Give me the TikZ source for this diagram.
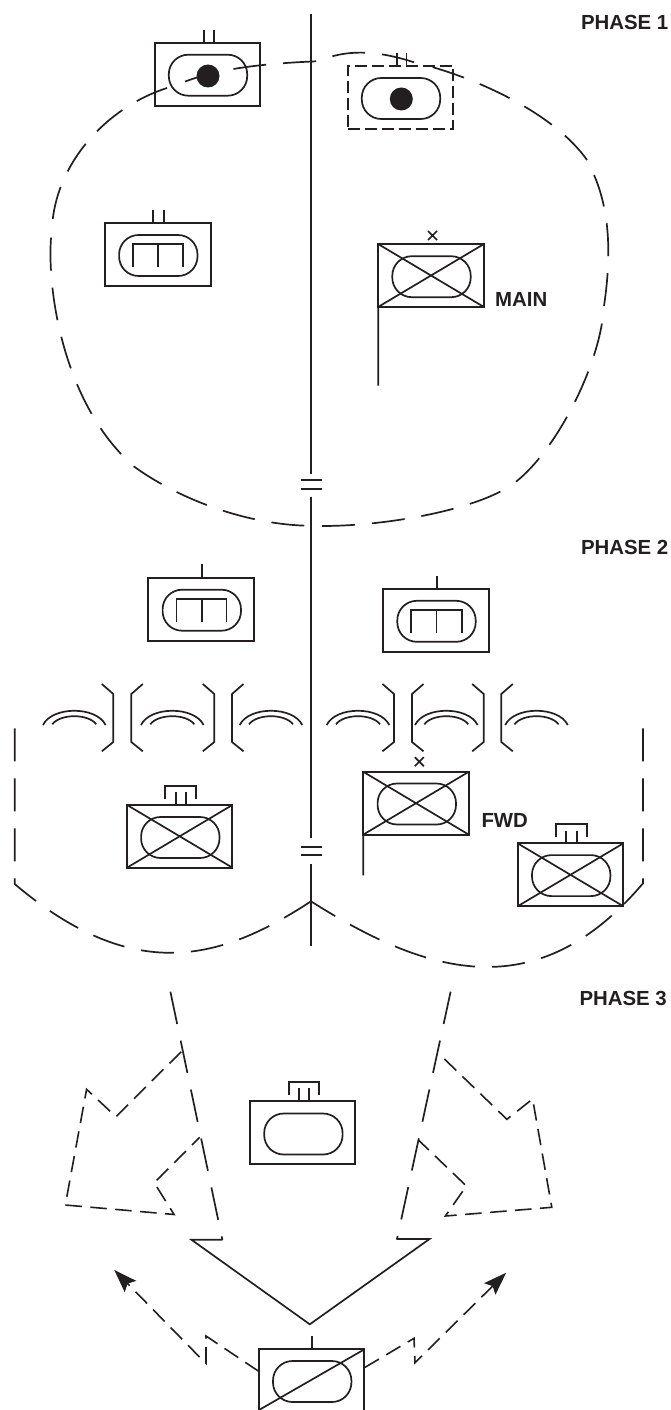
\documentclass[tikz,border=0pt]{standalone}
\usepackage{fontspec}
\setmainfont{Liberation Sans}
\usetikzlibrary{arrows.meta}
\definecolor{Tinta}{HTML}{231F20}
\tikzset{
  unitbox/.style={draw=Tinta,line width=2pt,minimum width=105.5pt,minimum height=62.8pt,inner sep=0pt,outer sep=0pt},
  unitoval/.style={draw=Tinta,line width=1.7pt,rounded corners=19.5pt,minimum width=78.4pt,minimum height=41pt,inner sep=0pt,outer sep=0pt},
  thinline/.style={draw=Tinta,line width=1.7pt},
  longdash/.style={draw=Tinta,line width=1.7pt,dash pattern=on 33pt off 17pt},
  shortdash/.style={draw=Tinta,line width=1.6pt,dash pattern=on 16.5pt off 8.5pt},
  phaselabel/.style={font=\bfseries\fontsize{20.4}{24}\selectfont,text=Tinta,inner sep=0pt}
}
\begin{document}
\begin{tikzpicture}[x=1pt,y=-1pt]
  \useasboundingbox (0,0) rectangle (671,1410);

  \node[phaselabel,anchor=east] (phaseOne) at (668.5,22) {PHASE 1};
  \node[phaselabel,anchor=east] (phaseTwo) at (668.5,547) {PHASE 2};
  \node[phaselabel,anchor=east] (phaseThree) at (667,998) {PHASE 3};

  % Boundary line with its two breaks.
  \draw[thinline] (311,14)--(311,473.7) (311,496.7)--(311,838.3) (311,864)--(311,945.7);
  \draw[thinline] (300.7,480)--(321.7,480) (300.7,488.7)--(321.7,488.7);
  \draw[thinline] (300.7,846.7)--(321.7,846.7) (300.7,855.3)--(321.7,855.3);

  % Phase 1 area, one subpath for each stretch of dashes.
  \path[longdash]
    (167,88) .. controls (105,108) and (55,165) .. (52,228)
    (51,237.7) .. controls (47,295) and (65,400) .. (127,460)
    (133.7,466.3) .. controls (180,500) and (250,526) .. (314,525.8)
    (322,526) .. controls (390,526) and (475,509) .. (509,486.5)
    (516,481.7) .. controls (556,450) and (597,370) .. (603.3,314)
    (604,306) .. controls (610,265) and (613,212) .. (590.5,167.5)
    (587,160) .. controls (553,112) and (475,78) .. (423,64.5)
    (414,62.3) .. controls (370,48) and (345,52) .. (324.5,58.5)
    (316,61.3) .. controls (280,63) and (225,66) .. (184,82);

  \node[unitbox] (tocBox) at (207.5,74.2) {};
  \node[unitoval] (tocOval) at (208,75.2) {};
  \fill[Tinta] (208,76) circle (11.5);
  \draw[thinline] (204,30)--(204,42.7) (214,30)--(214,42.7);

  \node[unitbox,dash pattern=on 12pt off 5pt] (altBox) at (400.7,97.5) {};
  \node[unitoval] (altOval) at (401,98.5) {};
  \fill[Tinta] (401.3,99) circle (11.5);
  \draw[thinline] (397,53)--(397,66) (406.4,53)--(406.4,66);

  \node[unitbox] (cssOneBox) at (158,254.3) {};
  \node[unitoval] (cssOneOval) at (158.3,255.5) {};
  \draw[thinline] (152.7,210)--(152.7,223) (164.3,210)--(164.3,223);
  \draw[thinline] (132.7,266.7)--(132.7,244)--(183.3,244)--(183.3,266.7) (158.3,244)--(158.3,266.7);

  \node[unitbox] (mainBox) at (431,275.5) {};
  \node[unitoval] (mainOval) at (431.5,276.7) {};
  \draw[thinline] (mainBox.north west)--(mainBox.south east) (mainBox.north east)--(mainBox.south west);
  \draw[thinline] (mainBox.south west)--(378.3,385.7);
  \draw[thinline] (428,231)--(437,240) (437,231)--(428,240);
  \node[phaselabel,anchor=west] (mainLabel) at (495,299) {MAIN};

  % Phase 2 units and the row of obstacles.
  \node[unitbox] (cssTwoBox) at (201.2,609.2) {};
  \node[unitoval] (cssTwoOval) at (201.8,610.2) {};
  \draw[thinline] (201.7,564.3)--(201.7,578);
  \draw[thinline] (176.4,621.7)--(176.4,599.3)--(226.6,599.3)--(226.6,621.7) (201.7,599.3)--(201.7,621.7);

  \node[unitbox] (cssThreeBox) at (435.8,620.5) {};
  \node[unitoval] (cssThreeOval) at (436.5,621.3) {};
  \draw[thinline] (437,576)--(437,589);
  \draw[thinline] (410.7,632.7)--(410.7,610.3)--(462.2,610.3)--(462.2,632.7) (436.5,610.3)--(436.5,632.7);

  \foreach \cx in {74.3,172.3,271,358,446.3,536.5} {
    \draw[thinline] ({\cx-31.3},725) .. controls ({\cx-22},706) and ({\cx+22},706) .. ({\cx+31.3},725);
    \draw[thinline] ({\cx-22},724.3) .. controls ({\cx-14},713.5) and ({\cx+14},713.5) .. ({\cx+22},724.3);
  }
  \foreach \bx in {113.3,214.3,394,483.7}
    \draw[thinline] ({\bx-11.5},684)--(\bx,694)--(\bx,742)--({\bx-11.5},751.3);
  \foreach \bx in {131.3,232,412,501.3}
    \draw[thinline] ({\bx+11.5},684)--(\bx,694)--(\bx,742)--({\bx+11.5},751.3);

  \node[unitbox] (brigLeftBox) at (179.7,836.3) {};
  \node[unitoval] (brigLeftOval) at (180.3,837.5) {};
  \draw[thinline] (brigLeftBox.north west)--(brigLeftBox.south east) (brigLeftBox.north east)--(brigLeftBox.south west);
  \draw[thinline] (175.7,792)--(175.7,805) (186,792)--(186,805);
  \draw[thinline] (165.3,799)--(165.3,785.7)--(196,785.7)--(196,799);

  \node[unitbox] (fwdBox) at (416,803.2) {};
  \node[unitoval] (fwdOval) at (416.8,804) {};
  \draw[thinline] (fwdBox.north west)--(fwdBox.south east) (fwdBox.north east)--(fwdBox.south west);
  \draw[thinline] (fwdBox.south west)--(363.3,875.3);
  \draw[thinline] (414.8,757.2)--(423.8,766.2) (423.8,757.2)--(414.8,766.2);
  \node[phaselabel,anchor=west] (fwdLabel) at (481.3,820) {FWD};

  \node[unitbox] (brigRightBox) at (570.5,874.8) {};
  \node[unitoval] (brigRightOval) at (571.2,875.6) {};
  \draw[thinline] (brigRightBox.north west)--(brigRightBox.south east) (brigRightBox.north east)--(brigRightBox.south west);
  \draw[thinline] (566.3,830.7)--(566.3,843.7) (577,830.7)--(577,843.7);
  \draw[thinline] (556.3,837)--(556.3,824)--(587,824)--(587,837);

  % Phase 2 area: the two lobes meet on the boundary.
  \path[longdash] (14.7,728.3)--(14.7,884)
    .. controls (133.5,984.6) and (220,961) .. (311,901.3);
  \path[longdash] (643,728.3)--(643,883.3)
    .. controls (538.5,1006.5) and (430,977) .. (311,901.3);

  % Phase 3 axes, the wedge and its rear unit.
  \path[longdash] (170.4,991.7)--(222.4,1240);
  \path[longdash] (450.6,991.7)--(397,1239);
  \draw[thinline] (222.4,1239.7)--(191.4,1239.7)--(309.8,1324.3)--(429.5,1239)--(396.4,1239);

  \path[shortdash] (181.2,1051.7)--(116,1116.7)--(86.6,1089.3)--(65.3,1205)--(174.1,1214.5)--(154.2,1182.7)--(199.8,1137.3);
  \path[shortdash] (444.4,1059)--(506.9,1119.3)--(532.6,1099)--(551.8,1207.3)--(445.4,1216)--(466.4,1186)--(418.4,1140);

  \node[unitbox] (reserveBox) at (302.7,1132.6) {};
  \node[unitoval] (reserveOval) at (303.4,1134) {};
  \draw[thinline] (298.8,1088.3)--(298.8,1101.3) (309.3,1088.3)--(309.3,1101.3);
  \draw[thinline] (289,1095)--(289,1082.3)--(319,1082.3)--(319,1095);

  \node[unitbox] (rearBox) at (311.7,1380.7) {};
  \node[unitoval] (rearOval) at (312.2,1381.5) {};
  \draw[thinline] (rearBox.north east)--(259,1410);
  \draw[thinline] (311.7,1336)--(311.7,1349.3);

  % Counterattack arrows with their zigzag.
  \coordinate (leftStart) at (259,1371.5);
  \coordinate (rightStart) at (364.7,1367.5);
  \coordinate (leftTip) at (114.3,1270);
  \coordinate (rightTip) at (506.2,1272.7);
  \path[shortdash,-{Stealth[length=23pt,width=16pt,inset=4pt]}]
    (leftStart)--(206,1336)--(206,1363.3)--(200.5,1358)--(leftTip);
  \path[shortdash,-{Stealth[length=23pt,width=16pt,inset=4pt]}]
    (rightStart)--(414,1338.3)--(415,1362.7)--(rightTip);
\end{tikzpicture}
\end{document}
